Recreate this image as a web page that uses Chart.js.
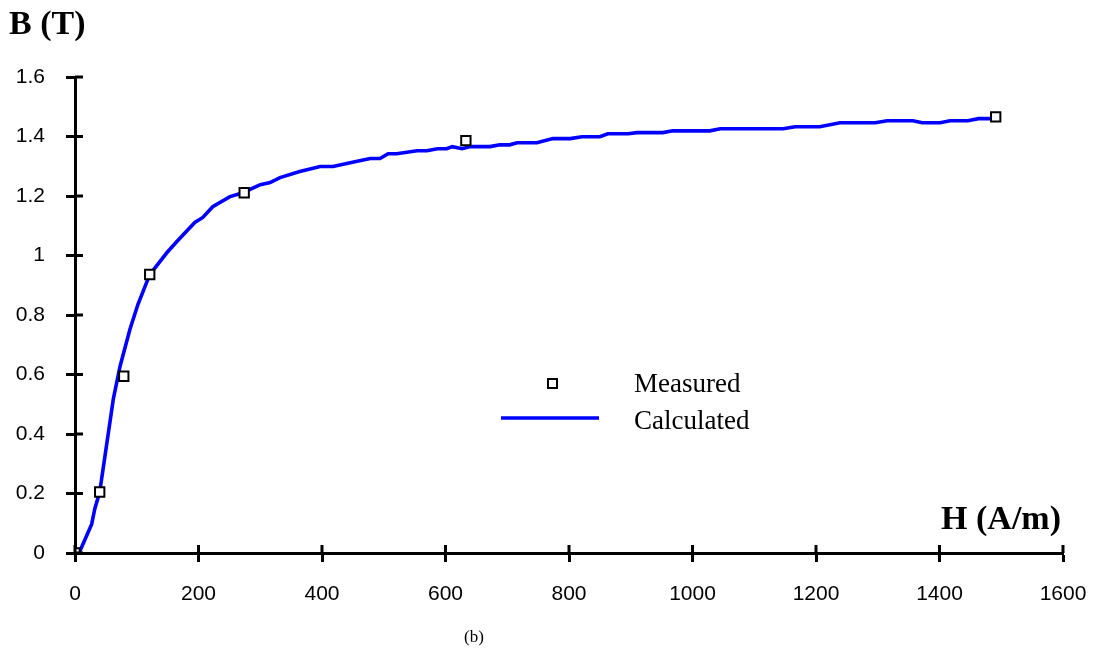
<!DOCTYPE html>
<html>
<head>
<meta charset="utf-8">
<title>B-H curve</title>
<script src="https://cdn.jsdelivr.net/npm/chart.js@4.4.1/dist/chart.umd.min.js"></script>
<style>
  body { margin: 0; background: #fff; }
  #wrap { width: 1096px; height: 657px; }
</style>
</head>
<body>
<div id="wrap"><canvas id="bh" width="1096" height="657"></canvas></div>
<script>
// Measured points
const measuredH = [0, 40, 79, 121, 274, 633, 1491];
const measuredB = [0, 0.205, 0.594, 0.936, 1.211, 1.386, 1.466];

// Calculated curve
const calcH = [5, 8, 27, 32, 40, 62, 73, 89, 102, 121, 149, 165, 194, 207, 223, 251, 272, 300, 316, 332, 364,
    397, 418, 440, 478, 494, 507, 521, 554, 570, 587, 602, 611, 627, 640, 672, 688, 704, 716, 748,
    774, 802, 821, 850, 863, 896, 910, 952, 968, 1028, 1045, 1147, 1166, 1206, 1239, 1296, 1315,
    1357, 1372, 1401, 1417, 1446, 1463, 1485, 1491];
const calcB = [0, 0.007, 0.097, 0.148, 0.205, 0.517, 0.628, 0.752, 0.836, 0.936, 1.01, 1.047, 1.111, 1.128,
    1.164, 1.198, 1.211, 1.238, 1.245, 1.262, 1.282,
    1.299, 1.299, 1.309, 1.326, 1.326, 1.342, 1.342, 1.352, 1.352, 1.359, 1.359, 1.366, 1.359, 1.366,
    1.366, 1.372, 1.372, 1.379, 1.379, 1.393, 1.393, 1.399, 1.399, 1.409, 1.409, 1.413, 1.413, 1.419,
    1.419, 1.426, 1.426, 1.433, 1.433, 1.446, 1.446, 1.453, 1.453, 1.446, 1.446, 1.453, 1.453, 1.46,
    1.46, 1.46];

// Axis ticks
const xTicks = [0, 200, 400, 600, 800, 1000, 1200, 1400, 1600];
const yTicks = [0, 0.2, 0.4, 0.6, 0.8, 1, 1.2, 1.4, 1.6];

const sansFont = "'Liberation Sans', Arial, sans-serif";
const serifFont = "'Liberation Serif', 'Times New Roman', serif";

// inner tick marks + titles + legend
const extras = {
    id: 'extras',
    afterDraw(chart) {
        const ctx = chart.ctx;
        const xs = chart.scales.x, ys = chart.scales.y;
        ctx.save();
        ctx.strokeStyle = '#000';
        ctx.lineWidth = 3;
        ctx.beginPath();
        yTicks.forEach(v => {
            const py = ys.getPixelForValue(v);
            ctx.moveTo(xs.left, py);
            ctx.lineTo(xs.left + 8, py);
        });
        xTicks.forEach(v => {
            const px = xs.getPixelForValue(v);
            ctx.moveTo(px, ys.bottom);
            ctx.lineTo(px, ys.bottom - 8);
        });
        ctx.stroke();

        // axis titles
        ctx.fillStyle = '#000';
        ctx.textBaseline = 'alphabetic';
        ctx.font = 'bold 34px ' + serifFont;
        ctx.textAlign = 'left';
        ctx.fillText('B (T)', 9, 34);
        ctx.textAlign = 'right';
        ctx.fillText('H (A/m)', 1061, 529);

        // caption
        ctx.font = '17px ' + serifFont;
        ctx.textAlign = 'center';
        ctx.fillText('(b)', 474, 642);

        // legend
        ctx.lineWidth = 2;
        ctx.fillStyle = '#fff';
        ctx.fillRect(548, 379, 9, 9);
        ctx.strokeRect(548, 379, 9, 9);
        ctx.strokeStyle = '#0000ff';
        ctx.lineWidth = 3.5;
        ctx.beginPath();
        ctx.moveTo(501, 418);
        ctx.lineTo(599, 418);
        ctx.stroke();
        ctx.fillStyle = '#000';
        ctx.font = '27px ' + serifFont;
        ctx.textAlign = 'left';
        ctx.fillText('Measured', 634, 392);
        ctx.fillText('Calculated', 634, 429);
        ctx.restore();
    }
};

new Chart(document.getElementById('bh'), {
    type: 'scatter',
    data: {
        datasets: [
            {
                label: 'Measured',
                data: measuredH.map((h, i) => ({ x: h, y: measuredB[i] })),
                pointStyle: 'rect',
                pointRadius: 6.6,
                pointBorderWidth: 2,
                pointBorderColor: '#000',
                pointBackgroundColor: '#fff',
                showLine: false,
                order: 0
            },
            {
                label: 'Calculated',
                data: calcH.map((h, i) => ({ x: h, y: calcB[i] })),
                showLine: true,
                borderColor: '#0000ff',
                borderWidth: 3.6,
                pointRadius: 0,
                tension: 0,
                order: 1
            }
        ]
    },
    options: {
        responsive: false,
        animation: false,
        devicePixelRatio: 1,
        layout: { padding: { top: 77, right: 33, left: 0, bottom: 0 } },
        plugins: { legend: { display: false }, tooltip: { enabled: false } },
        scales: {
            x: {
                type: 'linear',
                min: 0,
                max: 1600,
                afterBuildTicks: s => { s.ticks = xTicks.map(v => ({ value: v })); },
                afterFit: s => { s.height = 104; s.paddingLeft = 0; s.paddingRight = 0; },
                border: { color: '#000', width: 3 },
                grid: { drawOnChartArea: false, drawTicks: true, tickLength: 9, tickWidth: 3, tickColor: '#000' },
                ticks: {
                    color: '#000',
                    padding: 20,
                    font: { family: sansFont, size: 21 },
                    callback: v => String(v)
                }
            },
            y: {
                type: 'linear',
                min: 0,
                max: 1.6,
                afterBuildTicks: s => { s.ticks = yTicks.map(v => ({ value: v })); },
                afterFit: s => { s.width = 75; s.paddingTop = 0; s.paddingBottom = 0; },
                border: { color: '#000', width: 3 },
                grid: { drawOnChartArea: false, drawTicks: true, tickLength: 9, tickWidth: 3, tickColor: '#000' },
                ticks: {
                    color: '#000',
                    padding: 21,
                    font: { family: sansFont, size: 21 },
                    callback: v => String(v)
                }
            }
        }
    },
    plugins: [extras]
});
</script>
</body>
</html>
